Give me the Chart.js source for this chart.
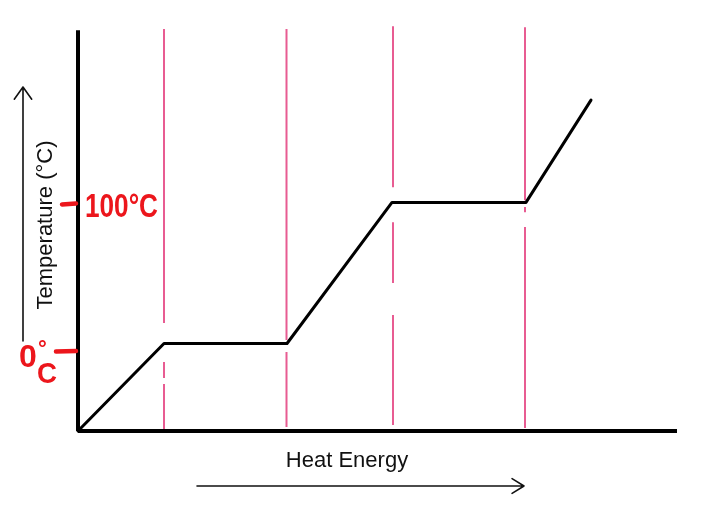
<!DOCTYPE html>
<html>
<head>
<meta charset="utf-8">
<title>Heating curve</title>
<script src="https://cdn.jsdelivr.net/npm/chart.js@4.4.1/dist/chart.umd.min.js"></script>
<style>
    html, body { margin: 0; padding: 0; background: #fff; }
    #wrap { width: 706px; height: 517px; }
</style>
</head>
<body>
<div id="wrap"><canvas id="heating-curve" width="706" height="517"></canvas></div>
<script>
// heating curve: heat energy (arbitrary units) vs temperature (°C)
const heatEnergy = [0, 8.6, 20.9, 31.4, 44.8, 51.3];
const temperature = [-62, 0, 0, 100, 100, 172.5];

// phase change boundaries, each drawn as a few pieces (gaps like in the sketch)
const boundaryX = [8.6, 20.85, 31.5, 44.7];
const boundaryPieces = [
    [[222.9, 14.5], [-13.1, -24.4], [-28.7, -60.5]],
    [[222.9, 2.5], [-6.0, -59.1]],
    [[224.9, 110.8], [86.0, 42.8], [20.2, -57.7]],
    [[224.2, 101.6], [96.7, 93.1], [82.5, -59.8]]
];

// temperature marks written on the axis
const markValues = [100, 0];

const xMin = 0, xMax = 60;
const yMin = -62, yMax = 225;
const axisTop = 222;
const axisRight = 59.9;

const RED = "rgb(236, 22, 28)";
const PINK = "rgb(232, 92, 146)";

function toPoints(xs, ys) {
    let data = [];
    for (let i = 0; i < xs.length; i++) {
        data.push({ x: xs[i], y: ys[i] });
    }
    return data;
}

function boundaryData(x, pieces) {
    let data = [];
    for (const p of pieces) {
        if (data.length) data.push({ x: x, y: null });
        data.push({ x: x, y: p[0] });
        data.push({ x: x, y: p[1] });
    }
    return data;
}

function arrow(ctx, x1, y1, x2, y2, head, spread) {
    const a = Math.atan2(y2 - y1, x2 - x1);
    ctx.beginPath();
    ctx.moveTo(x1, y1);
    ctx.lineTo(x2, y2);
    ctx.moveTo(x2 - head * Math.cos(a - spread), y2 - head * Math.sin(a - spread));
    ctx.lineTo(x2, y2);
    ctx.lineTo(x2 - head * Math.cos(a + spread), y2 - head * Math.sin(a + spread));
    ctx.stroke();
}

const sketchLabels = {
    id: "sketchLabels",
    afterDraw(chart) {
        const ctx = chart.ctx;
        const x = chart.scales.x;
        const y = chart.scales.y;
        const x0 = x.getPixelForValue(0);

        ctx.save();
        ctx.strokeStyle = "#111";
        ctx.fillStyle = "#111";
        ctx.lineWidth = 1.6;
        ctx.lineCap = "round";
        ctx.lineJoin = "round";

        // axis titles with their arrows
        arrow(ctx, 23, 341, 23, 87, 15, 0.62);
        arrow(ctx, 197, 486, 524, 486, 14, 0.55);

        ctx.font = "22px 'Liberation Sans', Arial, sans-serif";
        ctx.textAlign = "center";
        ctx.textBaseline = "alphabetic";
        ctx.fillText("Heat Energy", 347, 467);

        ctx.save();
        ctx.translate(52, 225);
        ctx.rotate(-Math.PI / 2);
        ctx.fillText("Temperature (°C)", 0, 0, 176);
        ctx.restore();

        // red hand-written marks
        ctx.strokeStyle = RED;
        ctx.fillStyle = RED;
        ctx.lineWidth = 4.5;
        ctx.font = "bold 34px 'Liberation Sans', Arial, sans-serif";
        ctx.textAlign = "left";

        const y100 = y.getPixelForValue(markValues[0]);
        ctx.beginPath();
        ctx.moveTo(62, y100 + 2);
        ctx.lineTo(76, y100 + 1);
        ctx.stroke();
        ctx.fillText("100°C", x0 + 7, y100 + 15, 73);

        const y0 = y.getPixelForValue(markValues[1]);
        ctx.beginPath();
        ctx.moveTo(56, y0 + 8);
        ctx.lineTo(76, y0 + 7.5);
        ctx.stroke();
        ctx.font = "bold 32px 'Liberation Sans', Arial, sans-serif";
        ctx.fillText("0", 19, y0 + 23, 19);
        ctx.font = "bold 22px 'Liberation Sans', Arial, sans-serif";
        ctx.fillText("°", 38, y0 + 12);
        ctx.font = "bold 30px 'Liberation Sans', Arial, sans-serif";
        ctx.fillText("C", 37, y0 + 39, 20);

        ctx.restore();
    }
};

let datasets = [];

for (let i = 0; i < boundaryX.length; i++) {
    datasets.push({
        label: "boundary " + (i + 1),
        data: boundaryData(boundaryX[i], boundaryPieces[i]),
        borderColor: PINK,
        borderWidth: 2,
        pointRadius: 0,
        spanGaps: false,
        clip: false,
        order: 3
    });
}

datasets.push({
    label: "Temperature",
    data: toPoints(heatEnergy, temperature),
    borderColor: "#000",
    borderWidth: 3,
    borderJoinStyle: "round",
    borderCapStyle: "round",
    pointRadius: 0,
    tension: 0,
    clip: false,
    order: 2
});

datasets.push({
    label: "y axis",
    data: [{ x: xMin, y: yMin }, { x: xMin, y: axisTop }],
    borderColor: "#000",
    borderWidth: 4,
    pointRadius: 0,
    clip: false,
    order: 1
});

datasets.push({
    label: "x axis",
    data: [{ x: xMin, y: yMin }, { x: axisRight, y: yMin }],
    borderColor: "#000",
    borderWidth: 4,
    pointRadius: 0,
    clip: false,
    order: 1
});

new Chart(document.querySelector("#heating-curve"), {
    type: "scatter",
    data: { datasets: datasets },
    options: {
        responsive: false,
        animation: false,
        showLine: true,
        layout: { padding: { left: 78, right: 28, top: 26, bottom: 86 } },
        scales: {
            x: { type: "linear", display: false, min: xMin, max: xMax },
            y: { type: "linear", display: false, min: yMin, max: yMax }
        },
        plugins: {
            legend: { display: false },
            tooltip: { enabled: false }
        }
    },
    plugins: [sketchLabels]
});
</script>
</body>
</html>
